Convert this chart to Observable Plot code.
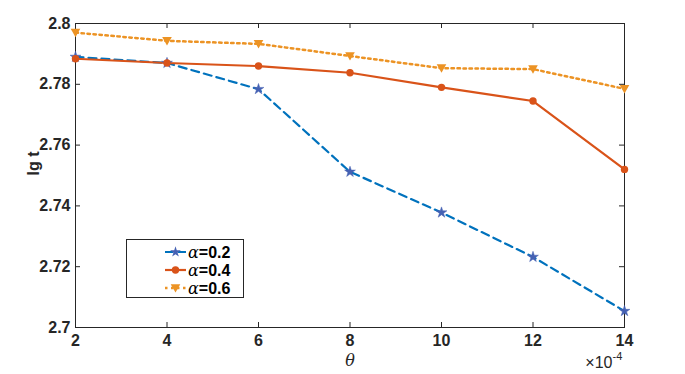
<!DOCTYPE html>
<html><head><meta charset="utf-8">
<script src="https://cdn.jsdelivr.net/npm/d3@7"></script>
<script src="https://cdn.jsdelivr.net/npm/@observablehq/plot@0.6"></script>
<style>
body{margin:0;background:#fff}
#c{position:relative;width:685px;height:374px}
#legend{position:absolute;left:0;top:0;pointer-events:none}
</style>
</head><body><div id="c"></div>
<script>
const theta = [2, 4, 6, 8, 10, 12, 14];
const a02 = [2.7890, 2.7870, 2.7784, 2.7512, 2.7378, 2.7232, 2.7054];
const a04 = [2.7884, 2.7870, 2.7860, 2.7838, 2.7790, 2.7745, 2.7520];
const a06 = [2.7970, 2.7943, 2.7933, 2.7893, 2.7853, 2.7850, 2.7785];
const xTicks = [2, 4, 6, 8, 10, 12, 14];
const yTicks = [2.7, 2.72, 2.74, 2.76, 2.78, 2.8];
const yTickLabels = ["2.7", "2.72", "2.74", "2.76", "2.78", "2.8"];
const seriesNames = ["=0.2", "=0.4", "=0.6"];
const colors = {line02: "#0072BD", mark02: "#4561B3", c04: "#D95319", c06: "#EC9324"};

const triDown = {
  draw(ctx, size) {
    const r = Math.sqrt(size / Math.PI);
    ctx.moveTo(-r, -0.8 * r);
    ctx.lineTo(r, -0.8 * r);
    ctx.lineTo(0, 0.95 * r);
    ctx.closePath();
  }
};

const W = 685, H = 374, mL = 75, mR = 61, mT = 23, mB = 47;
const pw = W - mL - mR, ph = H - mT - mB;
const ink = "#262626";

const chart = Plot.plot({
  width: W, height: H,
  marginLeft: mL, marginRight: mR, marginTop: mT, marginBottom: mB,
  style: {fontFamily: "'Liberation Sans', Arial, sans-serif", fontSize: "16px", fontWeight: "bold", color: ink, background: "#fff", overflow: "visible"},
  x: {domain: [2, 14]},
  y: {domain: [2.7, 2.8]},
  marks: [
    Plot.frame({stroke: ink, strokeWidth: 1}),
    Plot.axisX(xTicks, {tickSize: 0, tickPadding: 7, label: null, fontWeight: "bold", fontSize: 16}),
    Plot.axisY(yTicks, {tickSize: 0, tickPadding: 5, tickFormat: d => yTickLabels[yTicks.indexOf(d)],
      label: null, fontWeight: "bold", fontSize: 16}),
    Plot.tickX(xTicks, {x: d => d, insetTop: ph - 5, stroke: ink}),
    Plot.tickX(xTicks, {x: d => d, insetBottom: ph - 5, stroke: ink}),
    Plot.tickY(yTicks, {y: d => d, insetRight: pw - 5, stroke: ink}),
    Plot.tickY(yTicks, {y: d => d, insetLeft: pw - 5, stroke: ink}),
    Plot.line(theta, {x: d => d, y: (d, i) => a02[i], stroke: colors.line02, strokeWidth: 2.2, strokeDasharray: "8,5"}),
    Plot.line(theta, {x: d => d, y: (d, i) => a04[i], stroke: colors.c04, strokeWidth: 2.2}),
    Plot.line(theta, {x: d => d, y: (d, i) => a06[i], stroke: colors.c06, strokeWidth: 2.5, strokeDasharray: "2.5,3.5"}),
    Plot.dot(theta, {x: d => d, y: (d, i) => a02[i], symbol: "star", r: 3.4, fill: colors.mark02, stroke: colors.mark02, strokeWidth: 0.5}),
    Plot.dot(theta, {x: d => d, y: (d, i) => a04[i], symbol: "circle", r: 3.7, fill: colors.c04}),
    Plot.dot(theta, {x: d => d, y: (d, i) => a06[i], symbol: triDown, r: 4.8, fill: colors.c06}),
    Plot.text(["lg t"], {frameAnchor: "left", dx: -42, rotate: -90, fontSize: 16, fontWeight: "bold", fill: ink}),
    Plot.text(["θ"], {frameAnchor: "bottom", dy: 38, fontFamily: "'DejaVu Serif', 'Liberation Serif', serif", fontStyle: "italic", fontWeight: "normal", fontSize: 16, fill: ink}),
    Plot.text(["×10"], {frameAnchor: "bottom-right", dx: -12, dy: 40, textAnchor: "end", fontSize: 16, fontWeight: "normal", fill: ink}),
    Plot.text(["-4"], {frameAnchor: "bottom-right", dx: -12, dy: 32, textAnchor: "start", fontSize: 11, fontWeight: "normal", fill: ink})
  ]
});
const c = document.getElementById("c");
c.appendChild(chart);

// legend overlay
const lg = d3.select(c).append("svg").attr("id", "legend").attr("width", W).attr("height", H);
lg.append("rect").attr("x", 126.5).attr("y", 239.5).attr("width", 117).attr("height", 58)
  .attr("fill", "#fff").attr("stroke", ink).attr("stroke-width", 1);
const rowsY = [252, 270, 288];
const styles = [
  {stroke: colors.line02, dash: "8,5", w: 2.2, fill: colors.mark02, sym: d3.symbol(d3.symbolStar, Math.PI * 3.4 * 3.4)()},
  {stroke: colors.c04, dash: null, w: 2.2, fill: colors.c04, sym: d3.symbol(d3.symbolCircle, Math.PI * 3.7 * 3.7)()},
  {stroke: colors.c06, dash: "2.5,3.5", w: 2.5, fill: colors.c06, sym: "M-4.8,-3.8L4.8,-3.8L0,4.6Z"}
];
seriesNames.forEach((name, k) => {
  const y = rowsY[k], s = styles[k];
  lg.append("line").attr("x1", 165).attr("x2", 186).attr("y1", y).attr("y2", y)
    .attr("stroke", s.stroke).attr("stroke-width", s.w).attr("stroke-dasharray", s.dash);
  lg.append("path").attr("d", s.sym).attr("transform", `translate(175.5,${y})`).attr("fill", s.fill);
  const t = lg.append("text").attr("x", 188).attr("y", y + 5.5).attr("font-size", 16)
    .attr("fill", "#000");
  t.append("tspan").attr("font-family", "'DejaVu Serif', 'Liberation Serif', serif").attr("font-style", "italic").text("α");
  t.append("tspan").attr("font-family", "'Liberation Sans', Arial, sans-serif").attr("font-weight", "bold").text(name);
});
</script>
</body></html>
